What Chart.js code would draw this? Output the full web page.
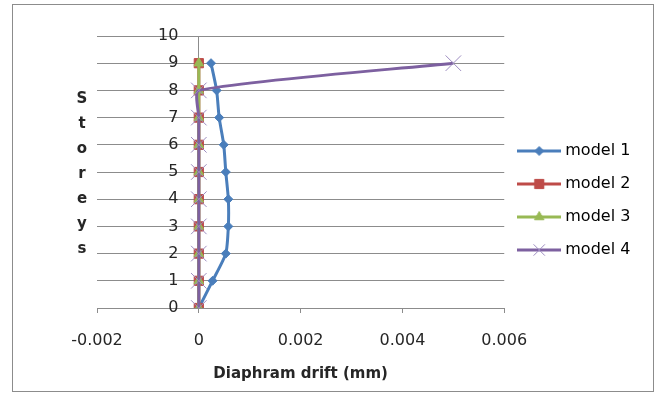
<!DOCTYPE html>
<html>
<head>
<meta charset="utf-8">
<script src="https://cdn.jsdelivr.net/npm/chart.js@4/dist/chart.umd.min.js"></script>
<style>
  html, body { margin: 0; padding: 0; background: #fff; }
  #wrap { position: relative; width: 655px; height: 394px; }
  #frame { position: absolute; left: 12px; top: 4px; width: 640px; height: 386px; border: 1px solid #8c8c8c; pointer-events: none; }
</style>
</head>
<body>
<div id="wrap">
  <canvas id="grafico" width="655" height="394"></canvas>
  <div id="frame"></div>
</div>
<script>
// storeys (y) and drift values (x) per model
const storeys = [0, 1, 2, 3, 4, 5, 6, 7, 8, 9];
const model1 = [0, 0.00027, 0.00053, 0.00058, 0.00058, 0.00053, 0.00049, 0.0004, 0.00035, 0.00024];
const model2 = [0, 0, 0, 0, 0, 0, 0, 0, 0, 0];
const model3 = [0, 0, 0, 0, 0, 0, 0, 0, 0, 0];
const model4 = [0, 0, 0, 0, 0, 0, 0, 0, 0, 0.005];
const nomes = ['model 1', 'model 2', 'model 3', 'model 4'];
const cores = ['#4a7ebb', '#be4b48', '#98b954', '#7d60a0'];
const marcadores = ['rectRot', 'rect', 'triangle', 'crossRot'];
const raios = [4.5, 6.5, 5.5, 11];
const raiosLegenda = [4.5, 6.5, 5.5, 8];
const xTickLabels = ['-0.002', '0', '0.002', '0.004', '0.006'];
const yTitulo = 'Storeys';
const xTitulo = 'Diaphram drift (mm)';

Chart.defaults.font.family = "'DejaVu Sans', Verdana, sans-serif";
Chart.defaults.font.size = 16;
Chart.defaults.color = '#262626';

const series = [model1, model2, model3, model4];

function pontos(valores) {
    return valores.map((v, i) => ({ x: v, y: storeys[i] }));
}

// amostra da legenda: linha + marcador
function iconeLegenda(i) {
    const c = document.createElement('canvas');
    c.width = 44; c.height = 18;
    const ctx = c.getContext('2d');
    ctx.strokeStyle = cores[i];
    ctx.lineWidth = 3;
    ctx.beginPath(); ctx.moveTo(0, 9); ctx.lineTo(44, 9); ctx.stroke();
    ctx.lineWidth = 1;
    ctx.fillStyle = cores[i];
    if (i === 3) ctx.strokeStyle = '#9d8cc0';
    Chart.helpers.drawPoint(ctx, { pointStyle: marcadores[i], radius: raiosLegenda[i], borderWidth: 1 }, 22, 9);
    return c;
}

const datasets = series.map((vals, i) => ({
    label: nomes[i],
    data: pontos(vals),
    showLine: true,
    borderColor: cores[i],
    backgroundColor: cores[i],
    pointBorderColor: i === 3 ? '#9d8cc0' : cores[i],
    borderWidth: 3,
    tension: 0.2,
    pointStyle: marcadores[i],
    pointRadius: raios[i],
    pointBorderWidth: 1,
    order: 4 - i
}));

const tituloVertical = {
    id: 'tituloVertical',
    afterDraw(chart) {
        const { ctx, chartArea } = chart;
        const meio = (chartArea.top + chartArea.bottom) / 2;
        ctx.save();
        ctx.font = "bold 15px 'DejaVu Sans', Verdana, sans-serif";
        ctx.fillStyle = '#262626';
        ctx.textAlign = 'center';
        ctx.textBaseline = 'alphabetic';
        yTitulo.split('').forEach((letra, i) => {
            ctx.fillText(letra, chartArea.left - 15, meio + (i - 3) * 25 + 6);
        });
        ctx.restore();
    }
};

new Chart(document.getElementById('grafico'), {
    type: 'scatter',
    data: { datasets },
    plugins: [tituloVertical],
    options: {
        responsive: false,
        animation: false,
        layout: { padding: { left: 97, top: 36, right: 15, bottom: 29 } },
        plugins: {
            tooltip: { enabled: false },
            legend: {
                position: 'right',
                labels: {
                    usePointStyle: true,
                    pointStyleWidth: 36,
                    padding: 17,
                    color: '#262626',
                    sort: (a, b) => a.datasetIndex - b.datasetIndex,
                    generateLabels: (chart) => chart.data.datasets.map((d, i) => ({
                        text: d.label,
                        pointStyle: iconeLegenda(i),
                        datasetIndex: i,
                        fillStyle: cores[i],
                        strokeStyle: cores[i],
                        lineWidth: 0,
                        hidden: false
                    }))
                }
            }
        },
        scales: {
            x: {
                type: 'linear',
                position: 'bottom',
                min: -0.002,
                max: 0.006,
                afterFit: (s) => { s.height = 57; },
                afterBuildTicks: (s) => {
                    s.ticks = xTickLabels.map(t => ({ value: parseFloat(t) }));
                },
                ticks: {
                    padding: 18,
                    color: '#262626',
                    callback: (v, i) => xTickLabels[i]
                },
                grid: { drawOnChartArea: false, tickLength: 5, color: '#8c8c8c' },
                border: { color: '#8c8c8c' },
                title: {
                    display: true,
                    text: xTitulo,
                    color: '#262626',
                    font: { size: 15, weight: 'bold' },
                    padding: { top: 0, bottom: -18 }
                }
            },
            y: {
                type: 'linear',
                axis: 'y',
                position: { x: 0 },
                min: 0,
                max: 10,
                ticks: {
                    stepSize: 1,
                    color: '#262626',
                    // eixo posicionado em x=0 ignora o padding, afasta o texto com espacos
                    callback: (v) => v + '\u2007\u2007'
                },
                grid: { color: '#8c8c8c', tickLength: 6 },
                border: { color: '#8c8c8c' }
            }
        }
    }
});
</script>
</body>
</html>
